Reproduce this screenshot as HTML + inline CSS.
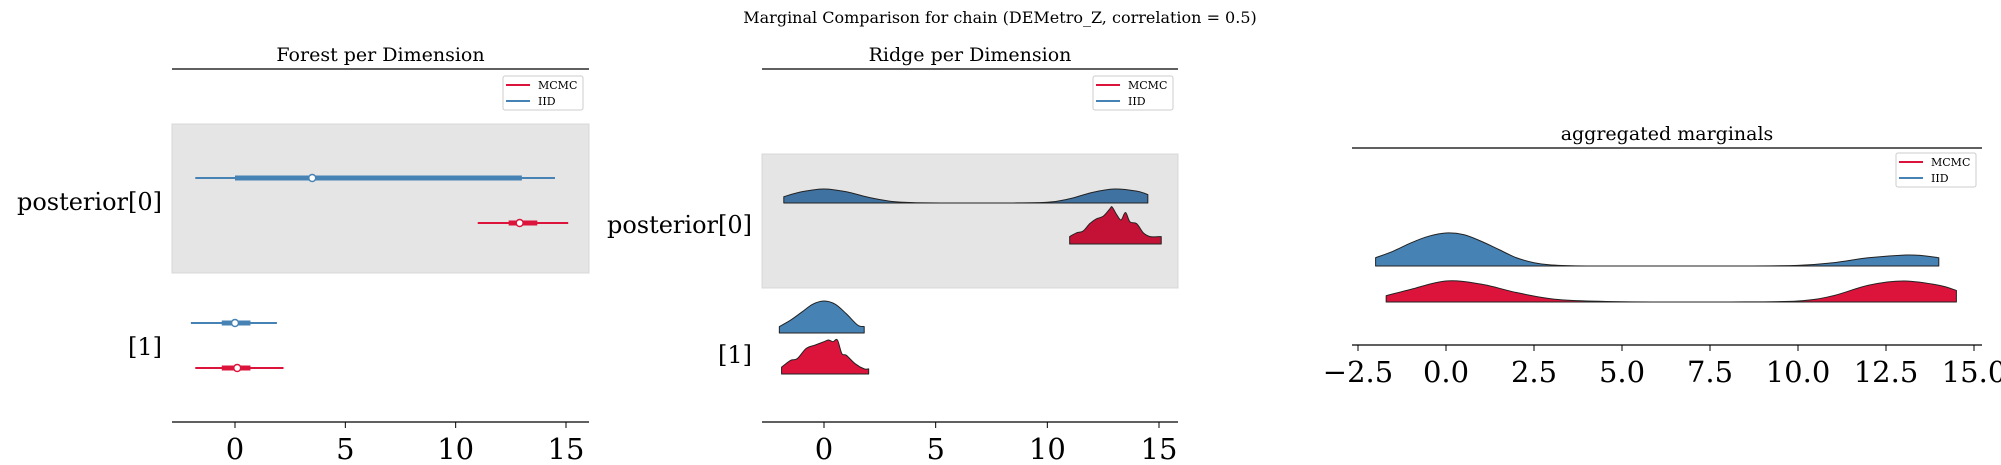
<!DOCTYPE html>
<html><head><meta charset="utf-8"><style>
html,body{margin:0;padding:0;background:#fff;}
svg{display:block;font-family:"DejaVu Serif","Liberation Serif",serif;}
</style></head><body>
<svg id="c" width="2001" height="465" viewBox="0 0 2001 465" xmlns="http://www.w3.org/2000/svg">
<text x="1000" y="23" font-size="16" text-anchor="middle">Marginal Comparison for chain (DEMetro_Z, correlation = 0.5)</text>
</svg>
<script>
// ---- data ----
const ticks12 = [0, 5, 10, 15];
const ticks3 = [-2.5, 0, 2.5, 5, 7.5, 10, 12.5, 15];
const tickLabels3 = ["\u22122.5","0.0","2.5","5.0","7.5","10.0","12.5","15.0"];
const forestThin = [[-1.8,14.5],[11,15.1],[-2,1.9],[-1.8,2.2]];
const forestThick = [[0,13],[12.4,13.7],[-0.6,0.7],[-0.6,0.7]];
const forestMedian = [3.5,12.9,0,0.1];
const iid0X = [-1.8,-1,0,1,2,3,4,6,8,10,11,12,13,14,14.5];
const iid0D = [0.45,0.8,1,0.8,0.4,0.12,0.03,0,0,0.05,0.3,0.75,1,0.85,0.6];
const mcmc0X = [11,11.3,11.6,11.9,12.2,12.5,12.8,12.9,13.1,13.3,13.5,13.7,14,14.3,14.6,15,15.1];
const mcmc0D = [0.2,0.3,0.35,0.55,0.68,0.75,0.95,1,0.8,0.65,0.85,0.6,0.55,0.3,0.2,0.2,0.2];
const iid1X = [-2,-1.5,-1,-0.5,0,0.5,1,1.5,1.8];
const iid1D = [0.2,0.4,0.65,0.9,1,0.9,0.6,0.25,0.2];
const mcmc1X = [-1.9,-1.5,-1.2,-0.8,-0.4,0,0.2,0.4,0.6,0.8,1,1.4,1.8,2];
const mcmc1D = [0.2,0.4,0.45,0.75,0.85,0.95,1,0.95,1,0.6,0.55,0.3,0.15,0.15];
const aggIidX = [-2,-1.5,-1,-0.5,0,0.5,1,1.5,2,2.5,3,4,6,8,10,11,12,13,13.5,14];
const aggIidD = [0.25,0.45,0.7,0.9,1,0.95,0.75,0.5,0.25,0.1,0.03,0,0,0,0.02,0.1,0.25,0.33,0.32,0.25];
const aggMcmcX = [-1.7,-1,0,1,2,3,4,6,8,10,11,12,13,14,14.5];
const aggMcmcD = [0.3,0.6,1,0.85,0.45,0.15,0.05,0,0,0.05,0.3,0.8,1,0.8,0.55];

const RED="#DC143C", BLUE="#4682B4", NS="http://www.w3.org/2000/svg";
const svg=document.getElementById('c');
function el(tag,attrs,parent){const e=document.createElementNS(NS,tag);for(const k in attrs)e.setAttribute(k,attrs[k]);(parent||svg).appendChild(e);return e;}
function txt(x,y,s,size,anchor,parent){const t=el('text',{x:x,y:y,'font-size':size,'text-anchor':anchor||'middle'},parent);t.textContent=s;return t;}
function scale(d0,d1,r0,r1){return v=>r0+(v-d0)/(d1-d0)*(r1-r0);}

function panel(name,x0,x1,topY,axisY,title,sx,ticks,labels){
  const g=el('g',{});
  
  
  const t=txt((x0+x1)/2,topY-8,title,19,'middle',g);
  
  
  const l=el('line',{x1:x0,x2:x1,y1:topY,y2:topY,stroke:'#000','stroke-width':1.2},g);
  
  
  const a=el('line',{x1:x0,x2:x1,y1:axisY,y2:axisY,stroke:'#000','stroke-width':1.2},g);
  
  
  ticks.forEach((v,i)=>{
    const tk=el('line',{x1:sx(v),x2:sx(v),y1:axisY,y2:axisY+6,stroke:'#000'},g);
    
    
    const tl=txt(sx(v),axisY+37,labels[i],29,'middle',g);
    
    
  });
  return g;
}
function legend(x,y,g){
  const lg=el('g',{},g);
  
  
  el('rect',{x:x,y:y,width:80,height:34,rx:2,fill:'#fff',stroke:'#ccc'},lg);
  [[RED,'MCMC'],[BLUE,'IID']].forEach((e,i)=>{
    el('line',{x1:x+3,x2:x+27,y1:y+9+i*16,y2:y+9+i*16,stroke:e[0],'stroke-width':2},lg);
    const t=txt(x+35,y+13+i*16,e[1],11,'start',lg);
    
    
  });
}
function ridge(xs,ds,sx,base,h,color,g,name){
  const P=xs.map((v,i)=>[sx(v),base-ds[i]*h]);
  let d='M'+P[0][0]+','+base+' L'+P[0][0]+','+P[0][1];
  for(let i=0;i<P.length-1;i++){
    const p0=P[Math.max(i-1,0)],p1=P[i],p2=P[i+1],p3=P[Math.min(i+2,P.length-1)];
    const c1=[p1[0]+(p2[0]-p0[0])/6,p1[1]+(p2[1]-p0[1])/6];
    const c2=[p2[0]-(p3[0]-p1[0])/6,p2[1]-(p3[1]-p1[1])/6];
    d+=' C'+c1[0]+','+Math.min(c1[1],base)+' '+c2[0]+','+Math.min(c2[1],base)+' '+p2[0]+','+p2[1];
  }
  d+=' L'+P[P.length-1][0]+','+base+' Z';
  const p=el('path',{d:d,fill:color,stroke:'#222','stroke-width':1,'stroke-linejoin':'round'},g);
  
  
}

// Panel 1: forest
const sx1=scale(0,15,235,566);
const g1=panel('forest-panel',172,589,69,422,'Forest per Dimension',sx1,ticks12,ticks12.map(String));
const bg1=el('rect',{x:172,y:124,width:417,height:149,fill:'#e5e5e5',stroke:'#d8d8d8'},g1);


legend(503,76,g1);
const forestY=[178,223,323,368], forestC=[BLUE,RED,BLUE,RED];
forestThin.forEach((r,i)=>{
  const th=el('line',{x1:sx1(r[0]),x2:sx1(r[1]),y1:forestY[i],y2:forestY[i],stroke:forestC[i],'stroke-width':2},g1);
  
  
  const tk=el('line',{x1:sx1(forestThick[i][0]),x2:sx1(forestThick[i][1]),y1:forestY[i],y2:forestY[i],stroke:forestC[i],'stroke-width':5},g1);
  
  
  const c=el('circle',{cx:sx1(forestMedian[i]),cy:forestY[i],r:3.5,fill:'#fff',stroke:forestC[i],'stroke-width':1.5},g1);
  
  
});
txt(162,210,'posterior[0]',24,'end',g1);
txt(162,355,'[1]',24,'end',g1);

// Panel 2: ridge
const sx2=scale(0,15,824,1159);
const g2=panel('ridge-panel',762,1178,69,422,'Ridge per Dimension',sx2,ticks12,ticks12.map(String));
const bg2=el('rect',{x:762,y:154,width:416,height:134,fill:'#e5e5e5',stroke:'#d8d8d8'},g2);


legend(1093,76,g2);
ridge(iid0X,iid0D,sx2,203,14,'#3f72a0',g2,'ridge-iid-0');
ridge(mcmc0X,mcmc0D,sx2,244,37,'#c41236',g2,'ridge-mcmc-0');
ridge(iid1X,iid1D,sx2,333,32,BLUE,g2,'ridge-iid-1');
ridge(mcmc1X,mcmc1D,sx2,374,34,RED,g2,'ridge-mcmc-1');
txt(752,233,'posterior[0]',24,'end',g2);
txt(752,363,'[1]',24,'end',g2);

// Panel 3: aggregated
const sx3=scale(0,15,1446,1974);
const g3=panel('aggregated-panel',1352,1982,148,345,'aggregated marginals',sx3,ticks3,tickLabels3);
legend(1896,153,g3);
ridge(aggIidX,aggIidD,sx3,266,33,BLUE,g3,'agg-ridge-iid');
ridge(aggMcmcX,aggMcmcD,sx3,302,21,RED,g3,'agg-ridge-mcmc');
</script>
</body></html>
